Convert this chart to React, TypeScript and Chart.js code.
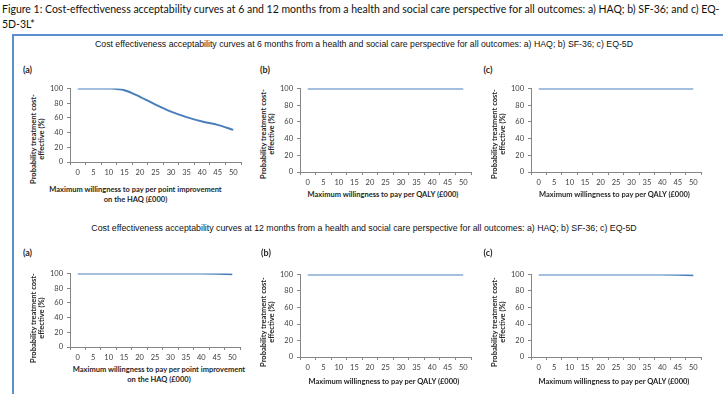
import React, { useEffect, useRef } from 'react';
import { Chart, registerables } from 'chart.js';

Chart.register(...registerables);

// ---------- data ----------
const wtpCategories = ['0', '5', '10', '15', '20', '25', '30', '35', '40', '45', '50'];
const haq6Months = [100, 100, 100, 97.7, 88.7, 78, 68.5, 61, 55, 50.5, 43.7];
const sf36_6Months = [100, 100, 100, 100, 100, 100, 100, 100, 100, 100, 100];
const eq5d_6Months = [100, 100, 100, 100, 100, 100, 100, 100, 100, 100, 100];
const haq12Months = [100, 100, 100, 100, 100, 100, 100, 100, 100, 99.8, 99];
const sf36_12Months = [100, 100, 100, 100, 100, 100, 100, 100, 100, 100, 100];
const eq5d_12Months = [100, 100, 100, 100, 100, 100, 100, 100, 100, 99.6, 99];
const yTickValues = [0, 20, 40, 60, 80, 100];

const figureTitleLine1 =
  'Figure 1: Cost-effectiveness acceptability curves at 6 and 12 months from a health and social care perspective for all outcomes: a) HAQ; b) SF-36; and c) EQ-';
const figureTitleLine2 = '5D-3L*';
const rowTitle6 =
  'Cost effectiveness acceptability curves at 6 months from a health and social care perspective for all outcomes: a) HAQ; b) SF-36; c) EQ-5D';
const rowTitle12 =
  'Cost effectiveness acceptability curves at 12 months from a health and social care perspective for all outcomes: a) HAQ; b) SF-36; c) EQ-5D';
const yAxisTitle = ['Probability treatment cost-', 'effective (%)'];
const xTitleHAQ = ['Maximum willingness to pay per point improvement', 'on the HAQ (£000)'];
const xTitleQALY = ['Maximum willingness to pay per QALY (£000)'];

// ---------- layout ----------
type Plot = { l: number; r: number; t: number; b: number };
type PanelSpec = {
  id: string;
  values: number[];
  tension: number;
  plot: Plot;
  label: string;
  labelX: number;
  labelY: number;
  xTitle: string[];
  xTitleCx: number;
  xTitleY: number;
  yTitleCy: number;
};

const panels: PanelSpec[] = [
  { id: 'r1a', values: haq6Months, tension: 0.3, plot: { l: 70, r: 241, t: 88, b: 162 }, label: '(a)', labelX: 27.5, labelY: 70, xTitle: xTitleHAQ, xTitleCx: 135.5, xTitleY: 190, yTitleCy: 139 },
  { id: 'r1b', values: sf36_6Months, tension: 0, plot: { l: 300, r: 471, t: 88, b: 172 }, label: '(b)', labelX: 265, labelY: 70, xTitle: xTitleQALY, xTitleCx: 383, xTitleY: 195, yTitleCy: 134 },
  { id: 'r1c', values: eq5d_6Months, tension: 0, plot: { l: 531, r: 701, t: 88, b: 172 }, label: '(c)', labelX: 488, labelY: 70, xTitle: xTitleQALY, xTitleCx: 614.5, xTitleY: 195, yTitleCy: 134 },
  { id: 'r2a', values: haq12Months, tension: 0, plot: { l: 70, r: 240, t: 273, b: 347 }, label: '(a)', labelX: 27.5, labelY: 253, xTitle: xTitleHAQ, xTitleCx: 159, xTitleY: 370, yTitleCy: 318 },
  { id: 'r2b', values: sf36_12Months, tension: 0, plot: { l: 300, r: 471, t: 274, b: 357 }, label: '(b)', labelX: 266, labelY: 253, xTitle: xTitleQALY, xTitleCx: 384, xTitleY: 382, yTitleCy: 322 },
  { id: 'r2c', values: eq5d_12Months, tension: 0, plot: { l: 531, r: 701, t: 274, b: 357 }, label: '(c)', labelX: 488, labelY: 253, xTitle: xTitleQALY, xTitleCx: 614, xTitleY: 382, yTitleCy: 322 },
];

const CAL = 'Lato, "Open Sans", sans-serif';
const ARIAL = '"Liberation Sans", Arial, sans-serif';
const AXIS_GREY = '#868686';
const LINE_BLUE = '#4A7EBB';
const TEXT_DARK = '#262626';

const Y_AXIS_W = 58;
const PAD_TOP = 8;
const PAD_RIGHT = 4;
const X_AXIS_H = 20;

function MiniChart({ spec }: { spec: PanelSpec }) {
  const ref = useRef<HTMLCanvasElement>(null);
  const { plot } = spec;
  const cl = plot.l - Y_AXIS_W;
  const ct = plot.t - PAD_TOP;
  const cw = plot.r + PAD_RIGHT - cl;
  const ch = plot.b + X_AXIS_H - ct;

  useEffect(() => {
    if (!ref.current) return;
    const chart = new Chart(ref.current, {
      type: 'line',
      data: {
        labels: wtpCategories,
        datasets: [
          {
            data: spec.values,
            borderColor: LINE_BLUE,
            borderWidth: 2,
            pointRadius: 0,
            tension: spec.tension,
            fill: false,
          },
        ],
      },
      options: {
        animation: false,
        responsive: false,
        events: [],
        layout: { padding: { top: PAD_TOP, right: PAD_RIGHT, left: 0, bottom: 0 } },
        plugins: { legend: { display: false }, tooltip: { enabled: false }, title: { display: false } },
        scales: {
          x: {
            type: 'category',
            offset: true,
            grid: { offset: true, drawOnChartArea: false, drawTicks: true, tickLength: 3, color: AXIS_GREY, lineWidth: 1 },
            border: { display: true, color: AXIS_GREY, width: 1 },
            ticks: { font: { family: CAL, size: 7.5 }, color: '#404040', padding: 3, maxRotation: 0, autoSkip: false },
            afterFit: (s: any) => {
              s.height = X_AXIS_H;
            },
          },
          y: {
            min: 0,
            max: 100,
            afterBuildTicks: (s: any) => {
              s.ticks = yTickValues.map((v) => ({ value: v }));
            },
            ticks: { font: { family: CAL, size: 7.5 }, color: '#404040', padding: 4 },
            grid: { drawOnChartArea: false, drawTicks: true, tickLength: 3, color: AXIS_GREY, lineWidth: 1 },
            border: { display: true, color: AXIS_GREY, width: 1 },
            title: { display: false },
            afterFit: (s: any) => {
              s.width = Y_AXIS_W;
            },
          },
        },
      },
    } as any);
    return () => chart.destroy();
  }, []);

  return (
    <canvas
      ref={ref}
      width={cw}
      height={ch}
      style={{ position: 'absolute', left: cl, top: ct, width: cw, height: ch }}
    />
  );
}

function TextAt({
  x,
  y,
  children,
  style,
  rotate,
}: {
  x: number;
  y: number;
  children: React.ReactNode;
  style?: React.CSSProperties;
  rotate?: boolean;
}) {
  return (
    <div
      style={{
        position: 'absolute',
        left: x - 300,
        top: y - 6,
        width: 600,
        height: 12,
        lineHeight: '12px',
        textAlign: 'center',
        whiteSpace: 'nowrap',
        transform: rotate ? 'rotate(-90deg)' : undefined,
        transformOrigin: '50% 50%',
        ...style,
      }}
    >
      {children}
    </div>
  );
}

export default function App() {
  return (
    <div
      style={{
        position: 'absolute',
        left: 0,
        top: 0,
        width: 723,
        height: 394,
        overflow: 'hidden',
        background: '#ffffff',
        fontFamily: CAL,
        color: '#000',
      }}
    >
      <div style={{ position: 'absolute', left: 2, top: 2, fontSize: 10.5, lineHeight: '15px', whiteSpace: 'nowrap', color: '#111' }}>
        {figureTitleLine1}
        <br />
        {figureTitleLine2}
      </div>
      {/* frame */}
      <div
        style={{
          position: 'absolute',
          left: 12,
          top: 34,
          width: 740,
          height: 400,
          borderLeft: '2px solid #5B8FCF',
          borderTop: '2px solid #5B8FCF',
          boxSizing: 'border-box',
        }}
      />
      <TextAt x={364} y={44} style={{ fontFamily: ARIAL, fontSize: 9.5, color: '#111', transform: 'scaleX(0.92)' }}>
        {rowTitle6}
      </TextAt>
      <TextAt x={363.5} y={228} style={{ fontFamily: ARIAL, fontSize: 9.6, color: '#111', transform: 'scaleX(0.915)' }}>
        {rowTitle12}
      </TextAt>
      {panels.map((p) => (
        <React.Fragment key={p.id}>
          <TextAt x={p.labelX} y={p.labelY} style={{ fontWeight: 'bold', fontSize: 9, color: TEXT_DARK }}>
            {p.label}
          </TextAt>
          {p.xTitle.map((line, i) => (
            <TextAt key={'x' + i} x={p.xTitleCx} y={p.xTitleY + i * 10} style={{ fontWeight: 'bold', fontSize: 7.5, color: TEXT_DARK }}>
              {line}
            </TextAt>
          ))}
          {yAxisTitle.map((line, i) => (
            <TextAt key={'y' + i} rotate x={p.plot.l - 36 + i * 7.5} y={p.yTitleCy} style={{ fontWeight: 'bold', fontSize: 7.5, color: TEXT_DARK }}>
              {line}
            </TextAt>
          ))}
          <MiniChart spec={p} />
        </React.Fragment>
      ))}
    </div>
  );
}
